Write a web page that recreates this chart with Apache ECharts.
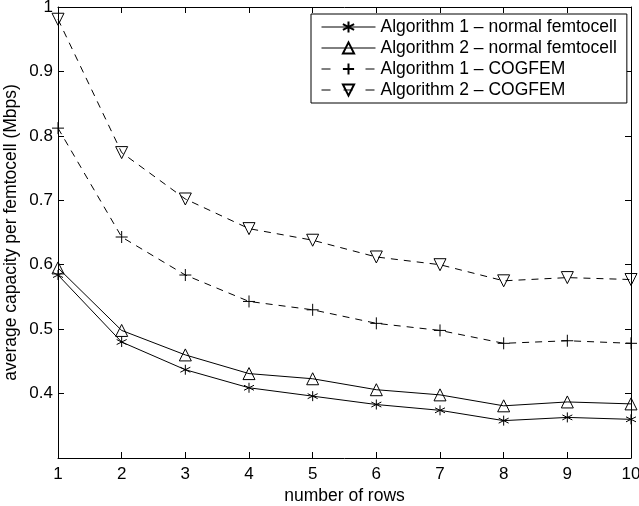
<!DOCTYPE html>
<html><head><meta charset="utf-8">
<script src="https://cdn.jsdelivr.net/npm/echarts@6/dist/echarts.min.js"></script>
<style>html,body{margin:0;padding:0;background:#fff}#c{width:639px;height:506px}</style>
</head><body><div id="c"></div>
<script>
const rows = [1,2,3,4,5,6,7,8,9,10];
const seriesNames = ['Algorithm 1 \u2013 normal femtocell','Algorithm 2 \u2013 normal femtocell','Algorithm 1 \u2013 COGFEM','Algorithm 2 \u2013 COGFEM'];
const alg1Normal = [0.584,0.480,0.437,0.409,0.396,0.383,0.374,0.358,0.363,0.360];
const alg2Normal = [0.595,0.498,0.460,0.431,0.423,0.406,0.398,0.381,0.387,0.384];
const alg1Cog   = [0.812,0.643,0.584,0.543,0.530,0.509,0.498,0.478,0.482,0.478];
const alg2Cog   = [0.981,0.774,0.702,0.656,0.638,0.612,0.600,0.575,0.580,0.577];
const yTicks = [0.3,0.4,0.5,0.6,0.7,0.8,0.9,1.0];

const FONT = 'Liberation Sans';
const asterisk = 'path://M0,-1L0,1M-0.866,-0.5L0.866,0.5M-0.866,0.5L0.866,-0.5';
const plus = 'path://M0,-1L0,1M-1,0L1,0';
const triUp = 'path://M0,-1L0.9,0.6L-0.9,0.6Z';
const triDown = 'path://M0,1L0.9,-0.6L-0.9,-0.6Z';

function mk(name, data, sym, size, dashed){
  return {
    name, type:'line', data: data.map((v,i)=>[rows[i], v]),
    symbol: sym, symbolSize: size, showAllSymbol:true,
    lineStyle:{color:'#000', width:1, type: dashed ? [7,6] : 'solid'},
    itemStyle:{color:'rgba(0,0,0,0)', borderColor:'#000', borderWidth:1},
    emphasis:{disabled:true}, animation:false, z:3
  };
}
const chart = echarts.init(document.getElementById('c'));
const axisBase = {
  axisLine:{show:true, onZero:false, lineStyle:{color:'#000', width:1}},
  axisTick:{show:true, inside:true, length:6, lineStyle:{color:'#000'}},
  splitLine:{show:false}
};
chart.setOption({
  backgroundColor:'#fff',
  animation:false,
  grid:{left:58, right:8, top:7, bottom:48, containLabel:false, outerBoundsMode:'none'},
  legend:{
    data: seriesNames.map((n,i)=>({name:n, lineStyle:{width:1, type: i>=2 ? [9,13] : 'solid'}})),
    orient:'vertical', left:311, top:14,
    backgroundColor:'#fff', borderColor:'#000', borderWidth:1,
    padding:[4,10,4,10], itemGap:3, itemWidth:54, itemHeight:14,
    lineStyle:{width:1},
    textStyle:{fontFamily:FONT, fontSize:17.5, color:'#000'},
    selectedMode:false
  },
  xAxis:[
    Object.assign({type:'value', min:1, max:10, interval:1,
      name:'number of rows', nameLocation:'middle', nameGap:29, nameMoveOverlap:false,
      nameTextStyle:{fontFamily:FONT, fontSize:17.5, color:'#000'},
      axisLabel:{fontFamily:FONT, fontSize:17, color:'#000', margin:8}}, axisBase),
    Object.assign({type:'value', min:1, max:10, interval:1, position:'top',
      axisLabel:{show:false}}, axisBase)
  ],
  yAxis:[
    Object.assign({type:'value', min:0.3, max:1, interval:0.1,
      name:'average capacity per femtocell (Mbps)', nameLocation:'middle', nameGap:38, nameMoveOverlap:false,
      nameTextStyle:{fontFamily:FONT, fontSize:17.5, color:'#000'},
      axisLabel:{fontFamily:FONT, fontSize:17, color:'#000', margin:5,
        formatter: v => Math.abs(v-0.3)<1e-6 ? '' : String(+v.toFixed(1))}}, axisBase),
    Object.assign({type:'value', min:0.3, max:1, interval:0.1, position:'right',
      axisLabel:{show:false}}, axisBase)
  ],
  series:[
    mk(seriesNames[0], alg1Normal, asterisk, 10, false),
    mk(seriesNames[1], alg2Normal, triUp, 12, false),
    mk(seriesNames[2], alg1Cog, plus, 12, true),
    mk(seriesNames[3], alg2Cog, triDown, 12, true)
  ]
});
</script></body></html>
